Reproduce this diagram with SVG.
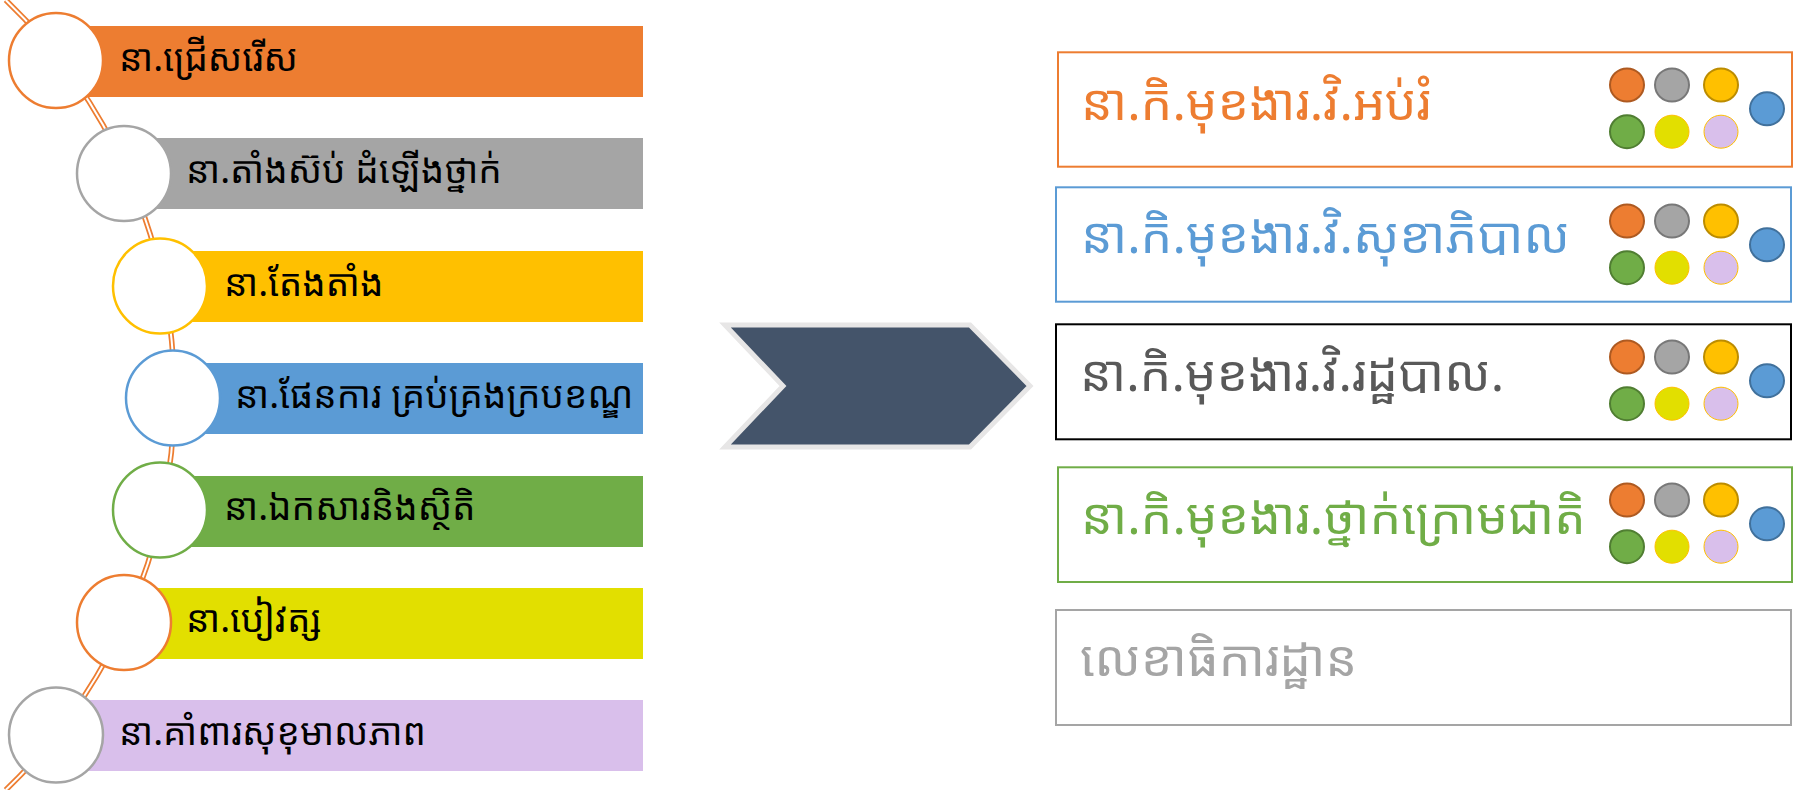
<svg xmlns="http://www.w3.org/2000/svg" width="1795" height="790" viewBox="0 0 1795 790">
<style>
.lt{font-family:"Noto Sans Khmer","Khmer OS","Khmer OS System","Noto Sans",sans-serif;font-size:37px;fill:#000}
.rt{font-family:"Noto Sans Khmer","Khmer OS","Khmer OS System","Noto Sans",sans-serif;font-size:50px}
.c{fill:#fff;stroke-width:2.5}
.box{fill:#fff;stroke-width:2}
</style>
<defs>
<g id="dots">
<ellipse cx="0" cy="0" rx="17" ry="16.5" fill="#ED7D31" stroke="#AE5A21" stroke-width="2"/>
<ellipse cx="45" cy="0" rx="17" ry="16.5" fill="#A5A5A5" stroke="#787878" stroke-width="2"/>
<ellipse cx="94" cy="0" rx="17" ry="16.5" fill="#FFC000" stroke="#BC8C00" stroke-width="2"/>
<ellipse cx="0" cy="46.7" rx="17" ry="16.5" fill="#70AD47" stroke="#507E32" stroke-width="2"/>
<ellipse cx="45" cy="46.7" rx="17" ry="16.5" fill="#E2DF00" stroke="#FFC000" stroke-width="1"/>
<ellipse cx="94" cy="46.7" rx="17" ry="16.5" fill="#D9BFEB" stroke="#FFC000" stroke-width="1"/>
<ellipse cx="140" cy="23.8" rx="17" ry="16.5" fill="#5B9BD5" stroke="#41719C" stroke-width="2"/>
</g>
</defs>
<g id="connectors">
<path d="M5.7 0 A547 547 0 0 1 5.7 790" fill="none" stroke="#ED7D31" stroke-width="5.5"/>
<path d="M5.7 0 A547 547 0 0 1 5.7 790" fill="none" stroke="#fff" stroke-width="2"/>
</g>
<g id="n1"><rect x="56" y="26" width="587" height="71" fill="#ED7D31"/><ellipse class="c" cx="56" cy="60.5" rx="47" ry="47.5" stroke="#ED7D31"/><text class="lt" x="119" y="71">នា.ជ្រើសរើស</text></g>
<g id="n2"><rect x="124" y="138" width="519" height="71" fill="#A5A5A5"/><ellipse class="c" cx="124" cy="173.5" rx="47" ry="47.5" stroke="#A5A5A5"/><text class="lt" x="186" y="183">នា.តាំងស៊ប់ ដំឡើងថ្នាក់</text></g>
<g id="n3"><rect x="160" y="251" width="483" height="71" fill="#FFC000"/><ellipse class="c" cx="160" cy="286" rx="47" ry="47.5" stroke="#FFC000"/><text class="lt" x="224" y="296">នា.តែងតាំង</text></g>
<g id="n4"><rect x="173" y="363" width="470" height="71" fill="#5B9BD5"/><ellipse class="c" cx="173" cy="398" rx="47" ry="47.5" stroke="#5B9BD5"/><text class="lt" x="235" y="408">នា.ផែនការ គ្រប់គ្រងក្របខណ្ឌ</text></g>
<g id="n5"><rect x="160" y="476" width="483" height="71" fill="#70AD47"/><ellipse class="c" cx="160" cy="510" rx="47" ry="47.5" stroke="#70AD47"/><text class="lt" x="224" y="520">នា.ឯកសារនិងស្ថិតិ</text></g>
<g id="n6"><rect x="124" y="588" width="519" height="71" fill="#E2DF00"/><ellipse class="c" cx="124" cy="622.5" rx="47" ry="47.5" stroke="#ED7D31"/><text class="lt" x="186" y="632">នា.បៀវត្ស</text></g>
<g id="n7"><rect x="56" y="700" width="587" height="71" fill="#D9BFEB"/><ellipse class="c" cx="56" cy="735" rx="47" ry="47.5" stroke="#A5A5A5"/><text class="lt" x="119" y="745">នា.គាំពារសុខុមាលភាព</text></g>
<g id="arrow"><polygon points="725,325 970,325 1030,386 970,447 725,447 783,386" fill="#44546A" stroke="#E7E6E6" stroke-width="5"/></g>
<g id="b1"><rect class="box" x="1058" y="52.3" width="734" height="114.4" stroke="#ED7D31"/><text class="rt" x="1081" y="120" fill="#ED7D31">នា.កិ.មុខងារ.វិ.អប់រំ</text><use href="#dots" x="1627" y="85"/></g>
<g id="b2"><rect class="box" x="1056" y="187.3" width="735" height="114.4" stroke="#5B9BD5"/><text class="rt" x="1081" y="253" fill="#5B9BD5">នា.កិ.មុខងារ.វិ.សុខាភិបាល</text><use href="#dots" x="1627" y="221"/></g>
<g id="b3"><rect class="box" x="1056" y="324.3" width="735" height="115" stroke="#000" stroke-width="2.5"/><text class="rt" x="1080" y="391" fill="#595959">នា.កិ.មុខងារ.វិ.រដ្ឋបាល.</text><use href="#dots" x="1627" y="357"/></g>
<g id="b4"><rect class="box" x="1058" y="467.3" width="734" height="114.7" stroke="#70AD47"/><text class="rt" x="1081" y="534" fill="#70AD47">នា.កិ.មុខងារ.ថ្នាក់ក្រោមជាតិ</text><use href="#dots" x="1627" y="500"/></g>
<g id="b5"><rect class="box" x="1056" y="610" width="735" height="115" stroke="#A5A5A5"/><text class="rt" x="1080" y="676" fill="#A5A5A5">លេខាធិការដ្ឋាន</text></g>
</svg>
